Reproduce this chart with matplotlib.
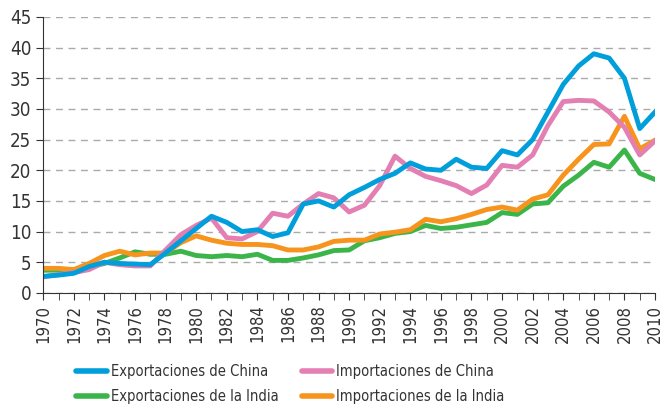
import matplotlib.pyplot as plt
from matplotlib.lines import Line2D

years = list(range(1970, 2011))

exp_china = [2.7, 2.9, 3.2, 4.3, 5.0, 4.8, 4.7, 4.6, 6.5, 8.5,
             10.5, 12.5, 11.5, 10.0, 10.3, 9.2, 9.8, 14.5, 15.0, 14.0,
             16.0, 17.2, 18.5, 19.5, 21.2, 20.2, 20.0, 21.8, 20.5, 20.3,
             23.2, 22.5, 25.0, 29.5, 34.0, 37.0, 39.0, 38.3, 35.0, 26.8, 29.5]
imp_china = [2.6, 3.0, 3.3, 3.8, 5.0, 4.6, 4.4, 4.4, 7.0, 9.5,
             11.0, 12.2, 9.0, 8.8, 10.0, 13.0, 12.5, 14.5, 16.2, 15.5,
             13.2, 14.3, 17.5, 22.3, 20.3, 19.0, 18.3, 17.5, 16.2, 17.6,
             20.8, 20.5, 22.5, 27.3, 31.2, 31.4, 31.3, 29.5, 27.0, 22.5, 24.8]
exp_india = [3.7, 3.7, 3.8, 4.2, 4.8, 5.7, 6.7, 6.3, 6.3, 6.8,
             6.1, 5.9, 6.1, 5.9, 6.3, 5.3, 5.3, 5.7, 6.2, 6.9,
             7.0, 8.5, 9.0, 9.7, 10.0, 11.0, 10.5, 10.7, 11.1, 11.5,
             13.1, 12.8, 14.5, 14.7, 17.4, 19.2, 21.3, 20.5, 23.3, 19.5, 18.5]
imp_india = [4.0, 4.0, 3.8, 4.8, 6.1, 6.8, 6.2, 6.5, 6.5, 8.2,
             9.3, 8.6, 8.1, 7.9, 7.9, 7.7, 7.0, 7.0, 7.5, 8.4,
             8.6, 8.6, 9.6, 9.9, 10.3, 12.0, 11.6, 12.1, 12.8, 13.6,
             14.0, 13.5, 15.3, 16.0, 19.2, 21.8, 24.2, 24.3, 28.8, 23.5, 24.9]

labels = ["Exportaciones de China", "Importaciones de China",
          "Exportaciones de la India", "Importaciones de la India"]
colors = ["#009fdc", "#e47fb3", "#3bb54a", "#f7941d"]
year_ticks = list(range(1970, 2011, 2))

plt.rcParams['font.family'] = ['Liberation Sans Narrow', 'DejaVu Sans']
plt.rcParams['font.stretch'] = 'condensed'

fig = plt.figure(figsize=(6.65, 4.04), dpi=100)
ax = fig.add_axes([0.065, 0.275, 0.92, 0.683])

# India first so the China lines sit on top
series = [exp_china, imp_china, exp_india, imp_india]
for idx in [2, 3, 1, 0]:
    ax.plot(years, series[idx], color=colors[idx], lw=3.5)

ax.set_xlim(1970, 2010)
ax.set_ylim(0, 45)
ax.set_yticks(range(0, 50, 5))
ax.set_xticks(range(1970, 2011), minor=True)
ax.set_xticks(year_ticks)
ax.set_xticklabels([str(y) for y in year_ticks], rotation=90,
                   fontsize=12, color='#333333')
ax.tick_params(axis='x', which='both', length=5, color='#333333')
ax.tick_params(axis='y', labelsize=13.5, length=5, color='#333333',
               labelcolor='#333333')
ax.yaxis.grid(True, ls=(0, (5, 4)), color='#aaaaaa', lw=1)
ax.set_axisbelow(True)
for s in ['top', 'right']:
    ax.spines[s].set_visible(False)
for s in ['left', 'bottom']:
    ax.spines[s].set_color('#333333')

# legend filled column by column
order = [0, 2, 1, 3]
handles = [Line2D([], [], color=colors[i], lw=4, solid_capstyle='round') for i in order]
fig.legend(handles, [labels[i] for i in order], loc='lower left',
           bbox_to_anchor=(0.095, -0.032), ncol=2, frameon=False, fontsize=10.5,
           handlelength=2.1, handletextpad=0.25, columnspacing=1.6,
           labelspacing=0.65, labelcolor='#333333')

fig.savefig("out.png", dpi=100)
